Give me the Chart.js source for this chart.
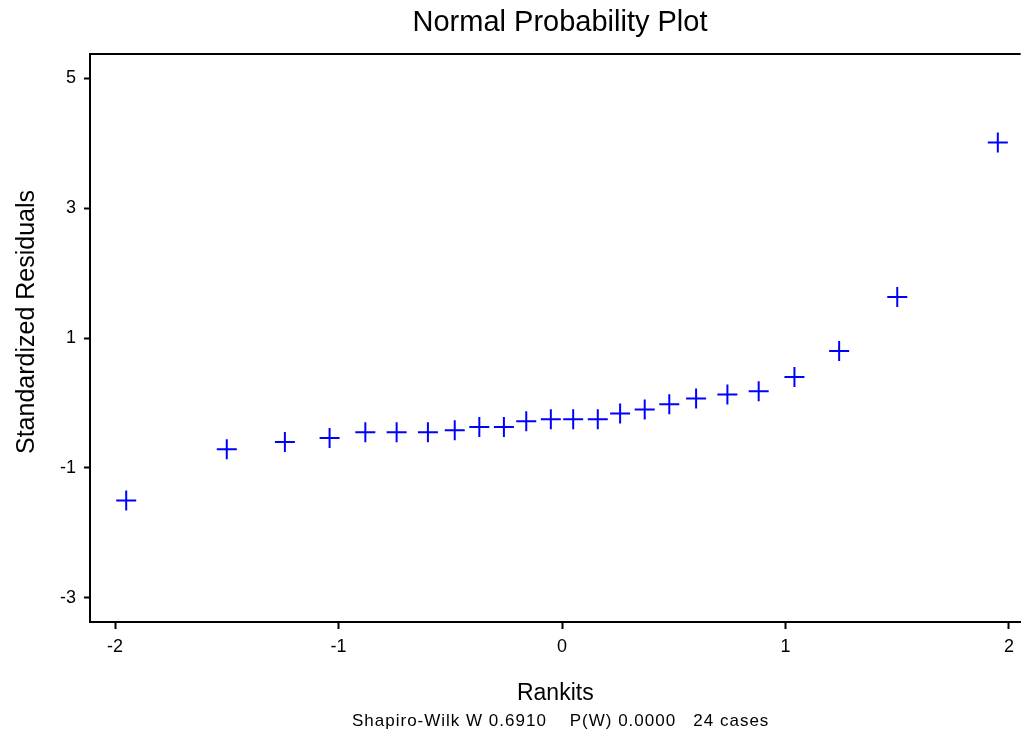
<!DOCTYPE html>
<html>
<head>
<meta charset="utf-8">
<script src="https://cdn.jsdelivr.net/npm/chart.js@4.4.0/dist/chart.umd.min.js"></script>
<style>
  html, body { margin: 0; padding: 0; background: #fff; overflow: hidden; }
  #wrap { width: 1021px; height: 741px; position: relative; }
</style>
</head>
<body>
<div id="wrap"><canvas id="npp"></canvas></div>
<script>
// data
const rankits = [-1.95, -1.50, -1.24, -1.04, -0.88, -0.74, -0.60, -0.48, -0.37, -0.26, -0.16, -0.05,
                 0.05, 0.16, 0.26, 0.37, 0.48, 0.60, 0.74, 0.88, 1.04, 1.24, 1.50, 1.95];
const residuals = [-1.50, -0.71, -0.60, -0.54, -0.45, -0.45, -0.45, -0.42, -0.37, -0.37, -0.28, -0.25,
                   -0.25, -0.25, -0.16, -0.10, -0.02, 0.07, 0.13, 0.18, 0.40, 0.80, 1.63, 4.01];
const xTicks = [-2, -1, 0, 1, 2];
const yTicks = [-3, -1, 1, 3, 5];
const chartTitle = "Normal Probability Plot";
const xTitle = "Rankits";
const yTitle = "Standardized Residuals";
const footnote = "Shapiro-Wilk W 0.6910    P(W) 0.0000   24 cases";

const family = '"Liberation Sans", Arial, sans-serif';

// title, y title, footnote and the top frame line
const extraText = {
  id: "extraText",
  afterDraw(chart) {
    const { ctx, chartArea } = chart;
    ctx.save();
    ctx.strokeStyle = "#000";
    ctx.lineWidth = 2;
    ctx.beginPath();
    ctx.moveTo(chartArea.left - 1, chartArea.top);
    ctx.lineTo(chartArea.right, chartArea.top);
    ctx.stroke();

    ctx.fillStyle = "#000";
    ctx.textAlign = "center";
    ctx.textBaseline = "middle";
    ctx.font = "29px " + family;
    ctx.fillText(chartTitle, 560, 23);

    ctx.save();
    ctx.font = "25px " + family;
    ctx.translate(27, 322);
    ctx.rotate(-Math.PI / 2);
    ctx.fillText(yTitle, 0, 0);
    ctx.restore();

    ctx.font = "17px " + family;
    ctx.letterSpacing = "1px";
    ctx.textAlign = "left";
    ctx.fillText(footnote, 352, 721);
    ctx.restore();
  },
};

const points = rankits.map((x, i) => ({ x: x, y: residuals[i] }));

new Chart(document.getElementById("npp"), {
  type: "scatter",
  data: {
    datasets: [
      {
        data: points,
        pointStyle: "cross",
        pointRadius: 10,
        pointHoverRadius: 10,
        borderColor: "#0000ff",
        backgroundColor: "#0000ff",
        borderWidth: 2,
      },
    ],
  },
  options: {
    responsive: true,
    maintainAspectRatio: false,
    animation: false,
    layout: { autoPadding: false, padding: { top: 54, left: 0, right: 0, bottom: 0 } },
    plugins: {
      legend: { display: false },
      tooltip: { enabled: false },
    },
    scales: {
      x: {
        type: "linear",
        min: -2.112,
        max: 2.052,
        afterBuildTicks: (s) => { s.ticks = xTicks.map((v) => ({ value: v })); },
        afterFit: (s) => { s.height = 119; },
        grid: { drawOnChartArea: false, tickLength: 7, tickColor: "#000", tickWidth: 2 },
        border: { display: true, color: "#000", width: 2 },
        ticks: { color: "#000", font: { size: 18, family: family }, padding: 7, maxRotation: 0 },
        title: {
          display: true,
          text: xTitle,
          color: "#000",
          font: { size: 23, family: family },
          padding: { top: 0, bottom: 34 },
        },
      },
      y: {
        type: "linear",
        min: -3.37,
        max: 5.37,
        afterBuildTicks: (s) => { s.ticks = yTicks.map((v) => ({ value: v })); },
        afterFit: (s) => { s.width = 90; },
        grid: { drawOnChartArea: false, tickLength: 6, tickColor: "#000", tickWidth: 2 },
        border: { display: true, color: "#000", width: 2 },
        ticks: { color: "#000", font: { size: 18, family: family }, padding: 8 },
      },
    },
  },
  plugins: [extraText],
});
</script>
</body>
</html>
